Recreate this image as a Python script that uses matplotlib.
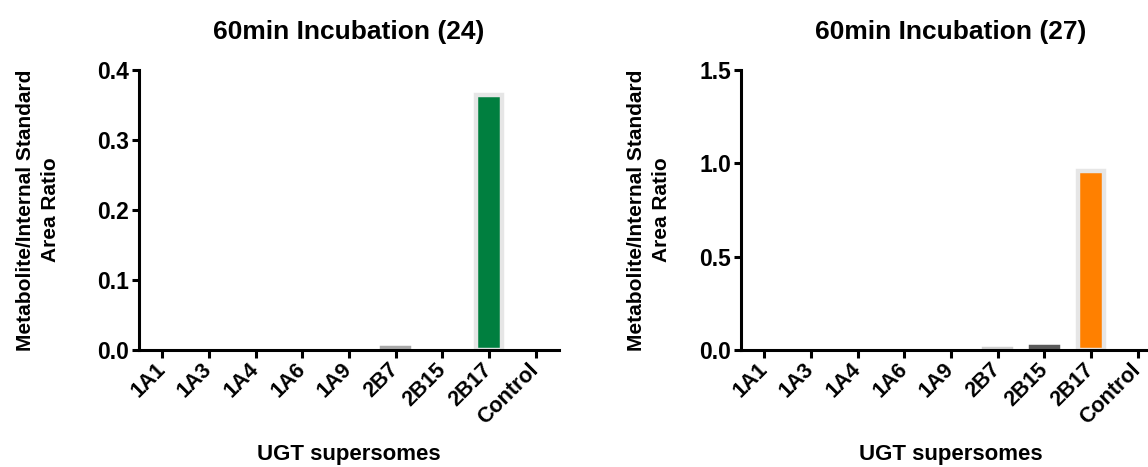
import matplotlib
matplotlib.use("Agg")
import matplotlib.pyplot as plt
from matplotlib.transforms import ScaledTranslation

categories = ["1A1", "1A3", "1A4", "1A6", "1A9", "2B7", "2B15", "2B17", "Control"]
values_24 = [0.0, 0.0, 0.0, 0.0, 0.0, 0.003, 0.0, 0.364, 0.0]
values_27 = [0.0, 0.0, 0.0, 0.0, 0.0, 0.004, 0.016, 0.957, 0.0]
title_24 = "60min Incubation (24)"
title_27 = "60min Incubation (27)"
yticks_24 = [0.0, 0.1, 0.2, 0.3, 0.4]
yticks_27 = [0.0, 0.5, 1.0, 1.5]
ylabel = "Metabolite/Internal Standard\nArea Ratio"
xlabel = "UGT supersomes"

bar_colors_24 = ["#b0b0b0"] * 5 + ["#a8a8a8", "#606060", "#007f3f", "#b0b0b0"]
bar_colors_27 = ["#b0b0b0"] * 5 + ["#d0d0d0", "#5a5a5a", "#ff8000", "#b0b0b0"]

plt.rcParams["font.family"] = ["Liberation Sans", "DejaVu Sans"]
plt.rcParams["font.weight"] = "bold"

W, H = 1148, 467
fig = plt.figure(figsize=(W / 100, H / 100), dpi=100)


def panel(x0, vals, colors, yticks, title, ylab_right):
    ax = fig.add_axes([x0 / W, 117 / H, 420 / W, 280 / H])
    xs = list(range(len(categories)))
    vmax = max(vals)
    for x, v, c in zip(xs, vals, colors):
        if v <= 0:
            continue
        ec = "#e6e6e6" if v > 0.1 * vmax else c
        ax.bar(x, v, width=0.57, color=c, edgecolor=ec, linewidth=3.2, zorder=1)
    ax.set_xlim(-0.5, len(categories) - 0.5)
    ax.set_ylim(yticks[0], yticks[-1])
    ax.set_yticks(yticks)
    ax.set_yticklabels([f"{t:.1f}" for t in yticks], fontsize=16.5, fontweight="bold")
    ax.set_xticks(xs)
    ax.set_xticklabels(categories, rotation=45, ha="right", va="center",
                       rotation_mode="anchor", fontsize=15.5, fontweight="bold")
    off = ScaledTranslation(4 / 100, -5 / 100, fig.dpi_scale_trans)
    for lbl in ax.get_xticklabels():
        lbl.set_transform(lbl.get_transform() + off)
    for s in ["top", "right"]:
        ax.spines[s].set_visible(False)
    for s in ["left", "bottom"]:
        ax.spines[s].set_linewidth(2.2)
        ax.spines[s].set_zorder(3)
    ax.tick_params(axis="x", length=6, width=2.2, pad=6)
    ax.tick_params(axis="y", length=5, width=2.2, pad=2)
    ax.set_title(title, fontsize=19, fontweight="bold", pad=22.5)
    ax.set_ylabel(ylabel, fontsize=15, fontweight="bold", linespacing=1.4)
    ax.yaxis.set_label_coords((ylab_right - x0) / 420, 0.5)
    ax.set_xlabel(xlabel, fontsize=16, fontweight="bold", labelpad=11.5)
    return ax


panel(139, values_24, bar_colors_24, yticks_24, title_24, 60)
panel(741, values_27, bar_colors_27, yticks_27, title_27, 671)

fig.savefig("out.png", dpi=100)
